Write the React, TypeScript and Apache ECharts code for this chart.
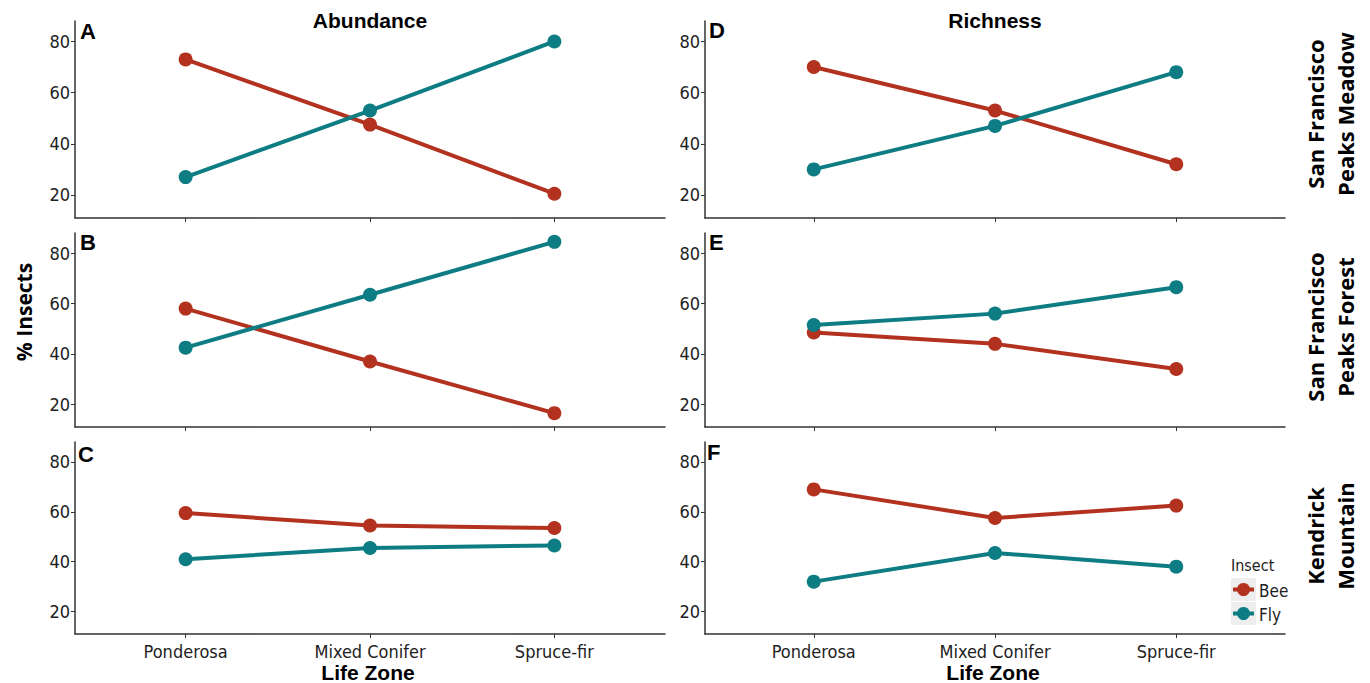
import React, { useEffect, useRef } from "react";
import * as echarts from "echarts";

// ---------- data ----------
const categories = ["Ponderosa", "Mixed Conifer", "Spruce-fir"];
const yTickValues = [20, 40, 60, 80];
const seriesNames = ["Bee", "Fly"];

// Abundance (left column)
const abundanceMeadowBee = [73, 47.5, 20.5];
const abundanceMeadowFly = [27, 53, 80];
const abundanceForestBee = [58, 37, 16.5];
const abundanceForestFly = [42.5, 63.5, 84.5];
const abundanceKendrickBee = [59.5, 54.5, 53.5];
const abundanceKendrickFly = [41, 45.5, 46.5];

// Richness (right column)
const richnessMeadowBee = [70, 53, 32];
const richnessMeadowFly = [30, 47, 68];
const richnessForestBee = [48.5, 44, 34];
const richnessForestFly = [51.5, 56, 66.5];
const richnessKendrickBee = [69, 57.5, 62.5];
const richnessKendrickFly = [32, 43.5, 38];

const columnTitles = ["Abundance", "Richness"];
const rowLabels = ["San Francisco\nPeaks Meadow", "San Francisco\nPeaks Forest", "Kendrick\nMountain"];
const panelLetters = ["A", "B", "C", "D", "E", "F"];

const panels = [
  { bee: abundanceMeadowBee, fly: abundanceMeadowFly, row: 0, col: 0 },
  { bee: abundanceForestBee, fly: abundanceForestFly, row: 1, col: 0 },
  { bee: abundanceKendrickBee, fly: abundanceKendrickFly, row: 2, col: 0 },
  { bee: richnessMeadowBee, fly: richnessMeadowFly, row: 0, col: 1 },
  { bee: richnessForestBee, fly: richnessForestFly, row: 1, col: 1 },
  { bee: richnessKendrickBee, fly: richnessKendrickFly, row: 2, col: 1 },
];

// ---------- layout / style ----------
const RED = "#B2321F";
const TEAL = "#0E7C83";
const AXIS = "#333333";
const NARROW = "'Liberation Sans Narrow', 'Arial Narrow', 'DejaVu Sans Condensed', sans-serif";
const SANS = "'Liberation Sans', Arial, sans-serif";
const OPEN = "'Open Sans', 'Noto Sans', sans-serif";

const rowTop = [21, 233, 442];
const rowHeight = [197, 194, 192];
const colLeft = [75, 705];
const colWidth = [590, 580];
const letterPos = [
  [80, 31], [80, 242], [78, 454],
  [709, 30], [709, 242], [707, 452],
];

export default function App() {
  const ref = useRef<HTMLDivElement>(null);

  useEffect(() => {
    if (!ref.current) return;
    const chart = echarts.init(ref.current, null, { renderer: "svg" });

    const grid = panels.map((p) => ({
      left: colLeft[p.col],
      top: rowTop[p.row],
      width: colWidth[p.col],
      height: rowHeight[p.row],
      containLabel: false,
    }));

    const xAxis = panels.map((p, i) => ({
      type: "value",
      gridIndex: i,
      min: 0.4,
      max: 3.6,
      splitLine: { show: false },
      axisLine: { show: true, onZero: false, lineStyle: { color: AXIS, width: 1.5 } },
      axisTick: { show: true, length: 4, lineStyle: { color: AXIS }, customValues: [1, 2, 3] },
      axisLabel: {
        show: p.row === 2,
        customValues: [1, 2, 3],
        formatter: (v: number) => categories[Math.round(v) - 1] ?? "",
        fontFamily: NARROW,
        fontSize: 18,
        color: "#222",
        margin: 8,
      },
    }));

    const yAxis = panels.map((p, i) => ({
      type: "value",
      gridIndex: i,
      min: 11,
      max: 88,
      splitLine: { show: false },
      axisLine: { show: true, onZero: false, lineStyle: { color: AXIS, width: 1.5 } },
      axisTick: { show: true, length: 4, lineStyle: { color: AXIS }, customValues: yTickValues },
      axisLabel: {
        show: true,
        customValues: yTickValues,
        fontFamily: NARROW,
        fontSize: 18,
        color: "#222",
        margin: 5,
      },
    }));

    const series: any[] = [];
    panels.forEach((p, i) => {
      [p.bee, p.fly].forEach((vals, k) => {
        const color = k === 0 ? RED : TEAL;
        series.push({
          type: "line",
          name: seriesNames[k],
          xAxisIndex: i,
          yAxisIndex: i,
          data: vals.map((v, j) => [j + 1, v]),
          symbol: "circle",
          symbolSize: 14,
          showSymbol: true,
          lineStyle: { color, width: 4 },
          itemStyle: { color },
          z: 2 + k,
        });
      });
    });

    const graphic: any[] = [];
    // column titles
    columnTitles.forEach((t, c) => {
      graphic.push({
        type: "text",
        x: colLeft[c] + colWidth[c] / 2,
        y: 20,
        style: { text: t, font: `bold 21px ${SANS}`, fill: "#000", textAlign: "center", textVerticalAlign: "middle" },
      });
      graphic.push({
        type: "text",
        x: colLeft[c] + colWidth[c] / 2 - 2,
        y: 672,
        style: { text: "Life Zone", font: `bold 21px ${SANS}`, fill: "#000", textAlign: "center", textVerticalAlign: "middle" },
      });
    });
    // y axis title
    graphic.push({
      type: "text",
      x: 24,
      y: 312,
      rotation: Math.PI / 2,
      style: { text: "% Insects", font: `bold 21px ${OPEN}`, fill: "#000", textAlign: "center", textVerticalAlign: "middle" },
    });
    // row strip labels
    const stripY = [114, 327, 536];
    rowLabels.forEach((t, r) => {
      graphic.push({
        type: "text",
        x: 1330,
        y: stripY[r],
        rotation: Math.PI / 2,
        style: { text: t, font: `bold 22px ${OPEN}`, lineHeight: 30, fill: "#000", textAlign: "center", textVerticalAlign: "middle" },
      });
    });
    // panel letters
    panelLetters.forEach((l, i) => {
      graphic.push({
        type: "text",
        x: letterPos[i][0],
        y: letterPos[i][1],
        style: { text: l, font: `bold 22px ${SANS}`, fill: "#000", textAlign: "left", textVerticalAlign: "middle" },
      });
    });
    // legend
    graphic.push({
      type: "text",
      x: 1231,
      y: 565,
      style: { text: "Insect", font: `16px ${NARROW}`, fill: "#222", textAlign: "left", textVerticalAlign: "middle" },
    });
    seriesNames.forEach((n, k) => {
      const cy = 589.5 + k * 24;
      const color = k === 0 ? RED : TEAL;
      graphic.push({ type: "rect", shape: { x: 1231, y: cy - 11.5, width: 25, height: 23 }, style: { fill: "#eeeeee" } });
      graphic.push({ type: "line", shape: { x1: 1233, y1: cy, x2: 1254, y2: cy }, style: { stroke: color, lineWidth: 4 } });
      graphic.push({ type: "circle", shape: { cx: 1243.5, cy, r: 6.5 }, style: { fill: color } });
      graphic.push({
        type: "text",
        x: 1259,
        y: cy + 1,
        style: { text: n, font: `17px ${NARROW}`, fill: "#222", textAlign: "left", textVerticalAlign: "middle" },
      });
    });

    chart.setOption({
      animation: false,
      backgroundColor: "#ffffff",
      grid,
      xAxis,
      yAxis,
      series,
      graphic,
    });

    return () => chart.dispose();
  }, []);

  return (
    <div
      ref={ref}
      style={{ position: "fixed", left: 0, top: 0, width: 1370, height: 683, background: "#fff" }}
    />
  );
}
